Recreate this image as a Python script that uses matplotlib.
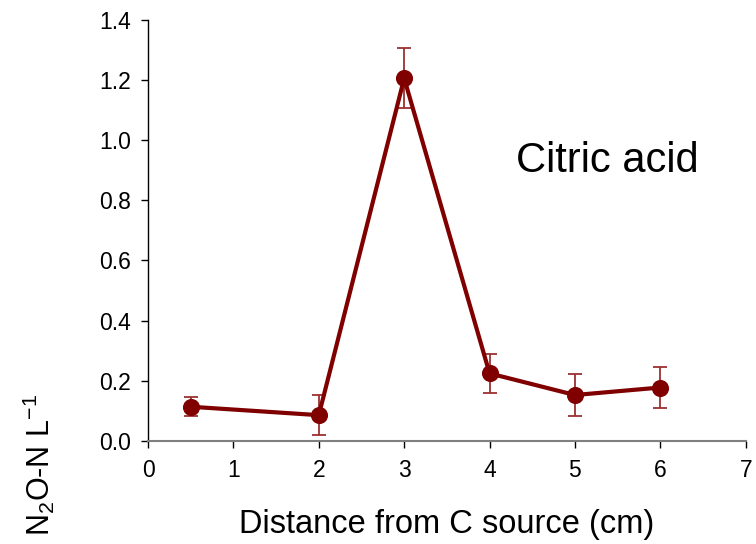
import matplotlib
matplotlib.use("Agg")
import matplotlib.pyplot as plt

plt.rcParams['font.family'] = ['Liberation Sans', 'DejaVu Sans']
plt.rcParams['mathtext.fontset'] = 'custom'
plt.rcParams['mathtext.rm'] = 'Liberation Sans'
plt.rcParams['mathtext.it'] = 'Liberation Sans'
plt.rcParams['mathtext.bf'] = 'Liberation Sans'

distance = [0.5, 2, 3, 4, 5, 6]
n2o = [0.113, 0.085, 1.206, 0.224, 0.152, 0.177]
err = [0.031, 0.066, 0.100, 0.064, 0.070, 0.069]
xticks = [0, 1, 2, 3, 4, 5, 6, 7]
yticks = [0.0, 0.2, 0.4, 0.6, 0.8, 1.0, 1.2, 1.4]

color = '#800000'

fig = plt.figure(figsize=(7.56, 5.44), dpi=100)
ax = fig.add_axes([0.1958, 0.1899, 0.7906, 0.7733])

ax.errorbar(distance, n2o, yerr=err, fmt='none', ecolor='#9b3030', elinewidth=1.3,
            capsize=4.7, capthick=1.3, zorder=2)
ax.plot(distance, n2o, color=color, lw=3, marker='o', markersize=11.3, zorder=3)

ax.set_xlim(0, 7)
ax.set_ylim(0, 1.4)
ax.set_xticks(xticks)
ax.set_xticklabels([str(v) for v in xticks])
ax.set_yticks(yticks)
ax.set_yticklabels([f'{v:.1f}' for v in yticks])
for s in ['top', 'right']:
    ax.spines[s].set_visible(False)
ax.spines['left'].set_color('#000000')
ax.spines['bottom'].set_color('#7f7f7f')
ax.spines['left'].set_linewidth(1.0)
ax.spines['bottom'].set_linewidth(1.5)
ax.tick_params(axis='both', direction='out', length=5, width=1.0, labelsize=16.5, colors='#000000')
ax.tick_params(axis='x', pad=8)
ax.tick_params(axis='y', pad=7)

ax.text(4.31, 0.895, 'Citric acid', fontsize=30, ha='left', va='baseline')
fig.text(447 / 756, 1 - 533 / 544, 'Distance from C source (cm)', fontsize=23.5, ha='center', va='baseline')
fig.text(39 / 756, 1 - 465 / 544, r'N$_2$O-N L$^{-1}$', fontsize=22, rotation=90, ha='center', va='center')

fig.savefig('out.png', dpi=100)
